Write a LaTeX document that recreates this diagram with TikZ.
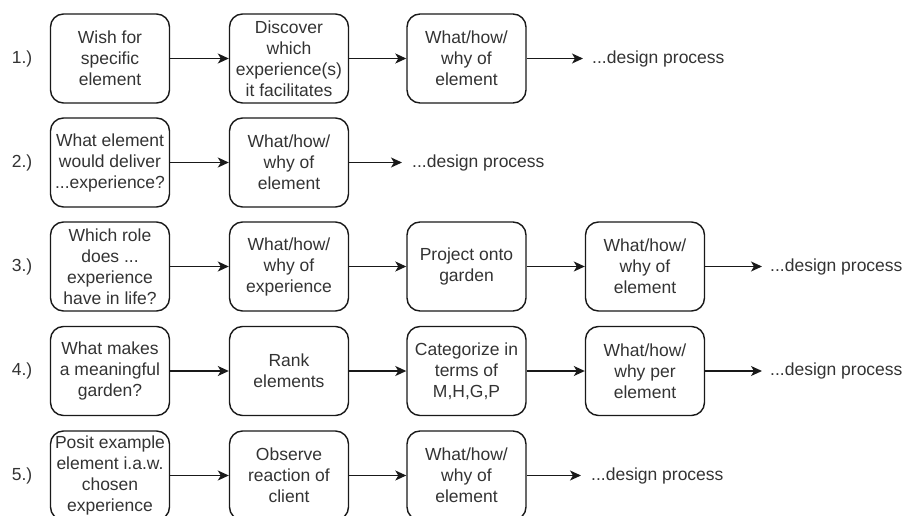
\documentclass[tikz,border=0pt]{standalone}
\usepackage{fontspec}
\setmainfont{Liberation Sans}
\usetikzlibrary{arrows.meta}
\begin{document}
\begin{tikzpicture}[x=1pt,y=-1pt,
  txt/.style={text=black!80, font=\fontsize{17.5}{21}\selectfont},
  stepbox/.style={txt, draw=black!90, line width=1.4pt, rounded corners=13pt,
    minimum width=119pt, minimum height=89pt, inner sep=0pt, align=center},
  flow/.style={draw=black!90, line width=1.4pt,
    -{Stealth[length=11pt,width=10pt,inset=3pt]}},
  endtext/.style={txt, anchor=west, inner sep=0pt},
  rowlabel/.style={txt, inner sep=0pt}]
\useasboundingbox (0,0) rectangle (905,516);
\clip (0,0) rectangle (905,516);

% row 1
\node[rowlabel] (l1) at (22,58.5) {1.)};
\node[stepbox] (b11) at (110,58.5) {Wish for\\specific\\element};
\node[stepbox] (b12) at (289,58.5) {Discover\\which\\experience(s)\\it facilitates};
\node[stepbox] (b13) at (466.5,58.5) {What/how/\\why of\\element};
\coordinate (e1) at (583,58.5);
\node[endtext] (t1) at (592,58.5) {...design process};
\draw[flow] (b11) -- (b12);
\draw[flow] (b12) -- (b13);
\draw[flow] (b13) -- (e1);

% row 2
\node[rowlabel] (l2) at (22,162.5) {2.)};
\node[stepbox] (b21) at (110,162.5) {What element\\would deliver\\...experience?};
\node[stepbox] (b22) at (289,162.5) {What/how/\\why of\\element};
\coordinate (e2) at (402,162.5);
\node[endtext] (t2) at (412,162.5) {...design process};
\draw[flow] (b21) -- (b22);
\draw[flow] (b22) -- (e2);

% row 3
\node[rowlabel] (l3) at (22,266.5) {3.)};
\node[stepbox] (b31) at (110,266.5) {Which role\\does ...\\experience\\have in life?};
\node[stepbox] (b32) at (289,266.5) {What/how/\\why of\\experience};
\node[stepbox] (b33) at (466.5,266.5) {Project onto\\garden};
\node[stepbox] (b34) at (645,266.5) {What/how/\\why of\\element};
\coordinate (e3) at (762,266.5);
\node[endtext] (t3) at (770,266.5) {...design process};
\draw[flow] (b31) -- (b32);
\draw[flow] (b32) -- (b33);
\draw[flow] (b33) -- (b34);
\draw[flow] (b34) -- (e3);

% row 4
\node[rowlabel] (l4) at (22,371) {4.)};
\node[stepbox] (b41) at (110,371) {What makes\\a meaningful\\garden?};
\node[stepbox] (b42) at (289,371) {Rank\\elements};
\node[stepbox] (b43) at (466.5,371) {Categorize in\\terms of\\M,H,G,P};
\node[stepbox] (b44) at (645,371) {What/how/\\why per\\element};
\coordinate (e4) at (762,371);
\node[endtext] (t4) at (770,371) {...design process};
\draw[flow] (b41) -- (b42);
\draw[flow] (b42) -- (b43);
\draw[flow] (b43) -- (b44);
\draw[flow] (b44) -- (e4);

% row 5
\node[rowlabel] (l5) at (22,475.5) {5.)};
\node[stepbox] (b51) at (110,475.5) {Posit example\\element i.a.w.\\chosen\\experience};
\node[stepbox] (b52) at (289,475.5) {Observe\\reaction of\\client};
\node[stepbox] (b53) at (466.5,475.5) {What/how/\\why of\\element};
\coordinate (e5) at (581,475.5);
\node[endtext] (t5) at (591,475.5) {...design process};
\draw[flow] (b51) -- (b52);
\draw[flow] (b52) -- (b53);
\draw[flow] (b53) -- (e5);
\end{tikzpicture}
\end{document}
